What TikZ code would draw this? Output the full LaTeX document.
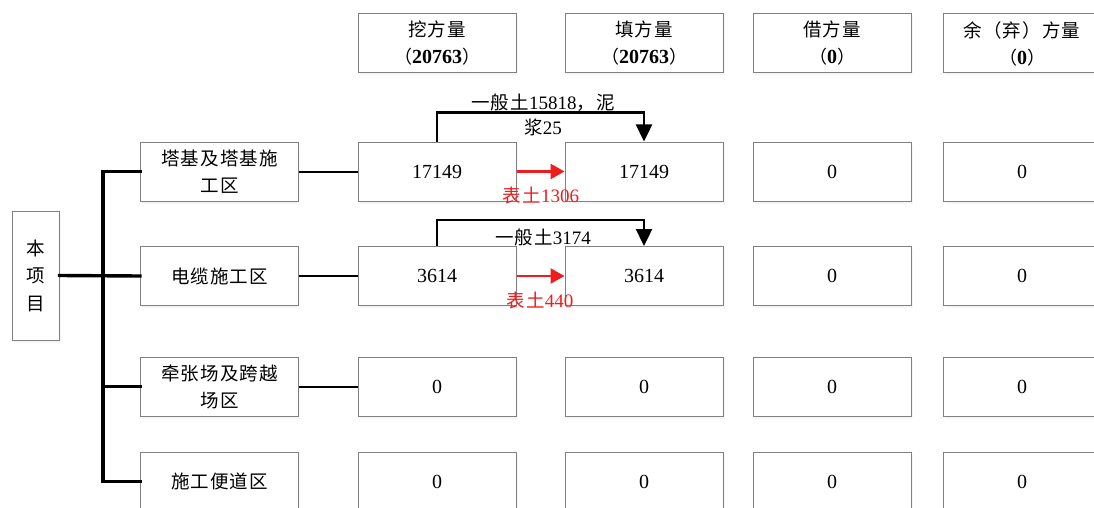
\documentclass[tikz,border=0pt]{standalone}
\usepackage{fontspec}
\setmainfont{Liberation Serif}
\newfontfamily\cjkfam{Noto Sans CJK SC}[LetterSpace=6]
\newfontfamily\cjkplain{Noto Sans CJK SC}
\usetikzlibrary{arrows.meta,shadows}

\definecolor{boxgray}{RGB}{128,128,128}
\definecolor{flowred}{RGB}{238,28,28}
\definecolor{shadowtint}{RGB}{160,170,200}

% text helpers: Chinese in a sans CJK face, figures in a Times-like serif
\newcommand\numsize{\fontsize{20}{27}\selectfont}
\newcommand\lblsize{\fontsize{19}{25}\selectfont}
\newcommand\zhtext[1]{{\cjkfam\fontsize{18.5}{25}\selectfont #1}}
\newcommand\zhparen[1]{{\cjkplain\fontsize{18}{25}\selectfont #1}}

\tikzset{
  cell/.style={draw=boxgray, line width=1pt, fill=white,
    minimum width=158pt, minimum height=59pt, inner sep=0pt,
    align=center, font=\numsize,
    drop shadow={shadow xshift=1.5pt, shadow yshift=-2.5pt,
      fill=shadowtint, opacity=0.1}},
  rootcell/.style={cell, minimum width=47pt, minimum height=129pt,
    font=\fontsize{20}{27.5}\selectfont},
  trunkline/.style={line width=3.4pt, line cap=rect},
  linkline/.style={line width=2pt},
  moveline/.style={line width=2.4pt,
    -{Triangle[length=17pt,width=16pt]}},
  topsoil/.style={line width=2.4pt, draw=flowred,
    -{Triangle[length=14pt,width=15pt]}},
  flowlabel/.style={font=\lblsize, align=center, inner sep=0pt},
}

\begin{document}
\begin{tikzpicture}[x=1pt,y=-1pt]
\useasboundingbox (0,0) rectangle (1094,508);

% column headings
\node[cell] (hWa)  at (437,43.5) {\zhtext{挖方量}\\\zhparen{（}\textbf{20763}\zhparen{）}};
\node[cell] (hTian) at (644,43.5) {\zhtext{填方量}\\\zhparen{（}\textbf{20763}\zhparen{）}};
\node[cell] (hJie) at (832,43.5) {\zhtext{借方量}\\\zhparen{（}\textbf{0}\zhparen{）}};
\node[cell] (hYu)  at (1022,43.5) {\zhtext{余（弃）方量}\\\zhparen{（}\textbf{0}\zhparen{）}};

% project root
\node[rootcell] (root) at (35.5,275.5) {\zhtext{本}\\\zhtext{项}\\\zhtext{目}};

% construction areas
\node[cell] (aTower) at (219.5,171.5) {\zhtext{塔基及塔基施}\\\zhtext{工区}};
\node[cell] (aCable) at (219.5,276)   {\zhtext{电缆施工区}};
\node[cell] (aPull)  at (219.5,386.5) {\zhtext{牵张场及跨越}\\\zhtext{场区}};
\node[cell] (aRoad)  at (219.5,481.5) {\zhtext{施工便道区}};

% quantities per area
\node[cell] (tWa)   at (437,171.5)  {17149};
\node[cell] (tTian) at (644,171.5)  {17149};
\node[cell] (tJie)  at (832,171.5)  {0};
\node[cell] (tYu)   at (1022,171.5) {0};

\node[cell] (cWa)   at (437,276)  {3614};
\node[cell] (cTian) at (644,276)  {3614};
\node[cell] (cJie)  at (832,276)  {0};
\node[cell] (cYu)   at (1022,276) {0};

\node[cell] (pWa)   at (437,386.5)  {0};
\node[cell] (pTian) at (644,386.5)  {0};
\node[cell] (pJie)  at (832,386.5)  {0};
\node[cell] (pYu)   at (1022,386.5) {0};

\node[cell] (rWa)   at (437,481.5)  {0};
\node[cell] (rTian) at (644,481.5)  {0};
\node[cell] (rJie)  at (832,481.5)  {0};
\node[cell] (rYu)   at (1022,481.5) {0};

% tree from the project to the areas
\coordinate (trunk) at (103,0);
\draw[trunkline] (aTower.west) -- (aTower.west -| trunk) -- (aRoad.west -| trunk) -- (aRoad.west);
\draw[trunkline] (root.east) -- (aCable.west);
\draw[trunkline] (aPull.west -| trunk) -- (aPull.west);

% areas to their excavation boxes
\draw[linkline] (aTower.east) -- (tWa.west);
\draw[linkline] (aCable.east) -- (cWa.west);
\draw[linkline] (aPull.east) -- (pWa.west);

% internal transfers of general soil
\draw[moveline] (tWa.north) -- ++(0,-29) -| (tTian.north);
\node[flowlabel] (tGen) at (543,114.5) {\zhtext{一般土}15818\zhtext{，泥}\\\zhtext{浆}25};
\draw[moveline] (cWa.north) -- ++(0,-26) -| (cTian.north);
\node[flowlabel] (cGen) at (543,237) {\zhtext{一般土}3174};

% topsoil transfers
\draw[topsoil] (tWa.east) -- (tTian.west);
\node[flowlabel, text=flowred] (tTop) at (541,195) {\zhtext{表土}1306};
\draw[topsoil] (cWa.east) -- (cTian.west);
\node[flowlabel, text=flowred] (cTop) at (540,300) {\zhtext{表土}440};
\end{tikzpicture}
\end{document}
